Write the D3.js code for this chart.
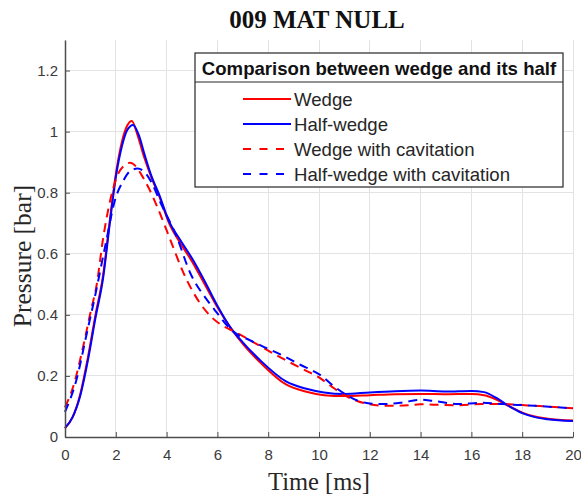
<!DOCTYPE html>
<html><head><meta charset="utf-8">
<script src="https://cdn.jsdelivr.net/npm/d3@7"></script>
<style>body{margin:0;background:#fff}svg{display:block}</style>
</head><body>
<svg id="c" width="581" height="495"></svg>
<script>
const titleText = "009 MAT NULL";
const xLabel = "Time [ms]";
const yLabel = "Pressure [bar]";
const legendTitle = "Comparison between wedge and its half";
const seriesNames = ["Wedge", "Half-wedge", "Wedge with cavitation", "Half-wedge with cavitation"];
const xTicks = [0,2,4,6,8,10,12,14,16,18,20];
const yTicks = [0,0.2,0.4,0.6,0.8,1,1.2];

const tW = [0,0.3,0.6,0.9,1.2,1.5,1.75,2.0,2.25,2.45,2.63,2.85,3.1,3.4,3.7,4.1,4.5,5.0,5.5,6.0,6.5,7.0,7.7,8.7,9.5,10.2,11.0,12.0,13.0,14.0,15.0,16.0,16.5,17.0,17.5,18.0,18.5,19.0,20.0];
const pW = [0.028,0.065,0.14,0.26,0.4,0.53,0.7,0.86,0.97,1.02,1.035,0.99,0.92,0.85,0.79,0.70,0.64,0.575,0.5,0.425,0.36,0.305,0.243,0.172,0.148,0.137,0.134,0.137,0.14,0.141,0.14,0.141,0.137,0.122,0.1,0.08,0.067,0.06,0.054];
const tH = [0,0.3,0.6,0.9,1.2,1.5,1.75,2.0,2.25,2.45,2.68,2.9,3.15,3.4,3.7,4.1,4.5,5.0,5.5,6.0,6.5,7.0,7.7,8.7,9.5,10.2,11.0,12.0,13.0,14.0,15.0,16.0,16.5,17.0,17.5,18.0,18.5,19.0,20.0];
const pH = [0.03,0.065,0.135,0.25,0.39,0.52,0.69,0.85,0.955,1.005,1.022,0.99,0.92,0.855,0.795,0.705,0.65,0.585,0.51,0.43,0.36,0.31,0.25,0.182,0.158,0.146,0.141,0.146,0.15,0.152,0.149,0.151,0.147,0.127,0.1,0.078,0.065,0.058,0.052];
const tWC = [0,0.33,0.72,1.0,1.25,1.5,1.78,2.1,2.35,2.56,2.8,3.0,3.3,3.65,4.15,4.65,5.3,5.8,6.1,6.5,7.0,7.7,8.5,9.3,10.0,10.5,11.0,11.5,12.0,12.7,13.5,14.0,14.5,15.5,16.4,17.2,18.5,20];
const pWC = [0.097,0.167,0.298,0.407,0.5,0.65,0.775,0.863,0.89,0.898,0.885,0.86,0.815,0.75,0.645,0.54,0.44,0.39,0.37,0.352,0.33,0.297,0.26,0.225,0.195,0.165,0.137,0.118,0.107,0.102,0.104,0.107,0.106,0.104,0.108,0.108,0.102,0.094];
const tHC = [0,0.46,0.86,1.18,1.58,1.97,2.3,2.55,2.85,3.1,3.35,3.8,4.4,4.93,5.59,6.0,6.4,6.8,7.2,7.7,8.5,9.3,9.8,10.1,10.5,11.0,11.5,12.0,12.5,13.2,14.0,14.5,15.5,16.4,17.2,18.5,20];
const pHC = [0.082,0.19,0.34,0.46,0.624,0.776,0.84,0.87,0.879,0.87,0.842,0.76,0.655,0.537,0.449,0.405,0.363,0.335,0.32,0.3,0.27,0.235,0.215,0.2,0.172,0.142,0.12,0.11,0.108,0.112,0.122,0.118,0.108,0.112,0.108,0.102,0.094];

const colors = ["#ff0000","#0000ff","#ff0000","#0000ff"];
const dashed = [false,false,true,true];
const series = [[tW,pW],[tH,pH],[tWC,pWC],[tHC,pHC]];

const svg = d3.select("#c");
const L = 65, R = 573, T = 40, B = 437;
const x = d3.scaleLinear().domain([0,20]).range([L,R]);
const y = d3.scaleLinear().domain([0,1.3]).range([B,T]);
const sans = "'Liberation Sans', Arial, Helvetica, sans-serif";
const serif = "'Liberation Serif', 'Times New Roman', serif";

// grid
const g = svg.append("g");
g.selectAll(".gx").data(xTicks).enter().append("line")
  .attr("x1", d=>x(d)).attr("x2", d=>x(d)).attr("y1", T).attr("y2", B)
  .attr("stroke", "#e3e3e3").attr("stroke-width", 1).attr("shape-rendering","crispEdges");
g.selectAll(".gy").data(yTicks).enter().append("line")
  .attr("x1", L).attr("x2", R).attr("y1", d=>y(d)).attr("y2", d=>y(d))
  .attr("stroke", "#e3e3e3").attr("stroke-width", 1).attr("shape-rendering","crispEdges");

// curves
const line = d3.line().x(d=>x(d[0])).y(d=>y(d[1])).curve(d3.curveMonotoneX);
series.forEach((s,i)=>{
  const pts = s[0].map((t,j)=>[t, s[1][j]]);
  svg.append("path").datum(pts).attr("d", line)
    .attr("fill","none").attr("stroke", colors[i]).attr("stroke-width", 2)
    .attr("stroke-dasharray", dashed[i] ? "9,6" : null);
});

// axes
const axColor = "#4d4d4d";
const xAxis = svg.append("g").attr("transform", `translate(0,${B})`)
  .call(d3.axisBottom(x).tickValues(xTicks).tickFormat(d3.format("d")).tickSizeInner(-5).tickSizeOuter(0).tickPadding(12));
const yAxis = svg.append("g").attr("transform", `translate(${L},0)`)
  .call(d3.axisLeft(y).tickValues(yTicks).tickFormat(d=>d===0||d===1?String(d):d3.format(".1f")(d)).tickSizeInner(-5).tickSizeOuter(0).tickPadding(7));
[xAxis,yAxis].forEach(a=>{
  a.select(".domain").attr("stroke", axColor).attr("stroke-width",1.5);
  a.selectAll(".tick line").attr("stroke", axColor);
  a.selectAll(".tick text").attr("fill","#3a3a3a").style("font-family", sans).style("font-size","15px");
});

// titles
svg.append("text").attr("x", (L+R)/2 - 2).attr("y", 28).attr("text-anchor","middle")
  .style("font-family", serif).style("font-weight","bold").style("font-size","25px").attr("fill","#111").text(titleText);
svg.append("text").attr("x", (L+R)/2).attr("y", 490).attr("text-anchor","middle")
  .style("font-family", serif).style("font-size","24.5px").attr("fill","#262626").text(xLabel);
svg.append("text").attr("transform", `translate(31,256) rotate(-90)`).attr("text-anchor","middle")
  .style("font-family", serif).style("font-size","25.5px").attr("fill","#262626").text(yLabel);

// legend
const lg = svg.append("g");
const bx = 195, by = 53, bw = 368, bh = 134;
lg.append("rect").attr("x", bx).attr("y", by).attr("width", bw).attr("height", bh)
  .attr("fill","#fff").attr("stroke","#262626").attr("stroke-width",1.2);
lg.append("line").attr("x1", bx).attr("x2", bx+bw).attr("y1", 82).attr("y2", 82)
  .attr("stroke","#262626").attr("stroke-width",1.2);
lg.append("text").attr("x", bx+bw/2).attr("y", 75).attr("text-anchor","middle")
  .style("font-family", sans).style("font-weight","bold").style("font-size","18.6px").attr("fill","#111").text(legendTitle);
const rowY = [99, 124, 149, 174];
seriesNames.forEach((n,i)=>{
  lg.append("line").attr("x1", 243).attr("x2", 291).attr("y1", rowY[i]).attr("y2", rowY[i])
    .attr("stroke", colors[i]).attr("stroke-width", 2)
    .attr("stroke-dasharray", dashed[i] ? "8,8.5" : null);
  lg.append("text").attr("x", 294).attr("y", rowY[i]+6.5).style("font-family", sans)
    .style("font-size","18.6px").attr("fill","#262626").text(n);
});
</script>
</body></html>
